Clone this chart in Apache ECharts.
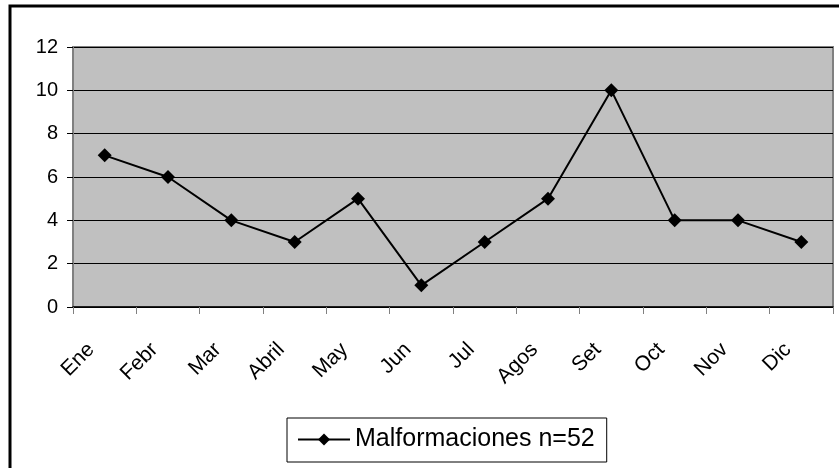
<!DOCTYPE html>
<html>
<head>
<meta charset="utf-8">
<script src="https://cdn.jsdelivr.net/npm/echarts@6/dist/echarts.min.js"></script>
<style>
    html, body { margin: 0; padding: 0; background: #fff; }
    #chart { width: 839px; height: 468px; }
</style>
</head>
<body>
<div id="chart"></div>
<script>
// meses y casos
const months = ['Ene', 'Febr', 'Mar', 'Abril', 'May', 'Jun', 'Jul', 'Agos', 'Set', 'Oct', 'Nov', 'Dic'];
const cases = [7, 6, 4, 3, 5, 1, 3, 5, 10, 4, 4, 3];
const seriesName = 'Malformaciones n=52';

const myChart = echarts.init(document.getElementById('chart'));
const font = 'Liberation Sans';

const option = {
    animation: false,
    backgroundColor: '#fff',
    graphic: [{
        type: 'rect',
        shape: { x: 10, y: 6, width: 840, height: 470 },
        style: { fill: 'none', stroke: '#000', lineWidth: 3 },
        z: 100
    }],
    grid: {
        left: 73, right: 6, top: 47, bottom: 161,
        show: true,
        backgroundColor: '#C0C0C0',
        borderColor: '#808080',
        borderWidth: 2
    },
    legend: {
        left: 287,
        top: 418,
        padding: [9, 12, 10, 10],
        borderColor: '#000',
        borderWidth: 1,
        itemWidth: 52,
        itemHeight: 15,
        itemGap: 5,
        textStyle: { fontFamily: font, fontSize: 25, color: '#000' },
        data: [seriesName]
    },
    xAxis: {
        type: 'category',
        data: months,
        boundaryGap: true,
        axisLine: { lineStyle: { color: '#000', width: 1.5 } },
        axisTick: { show: true, length: 7, lineStyle: { color: '#808080' } },
        axisLabel: {
            rotate: 45, margin: 26, padding: [0, 19, 0, 0],
            fontFamily: font, fontSize: 21, color: '#000', interval: 0
        }
    },
    yAxis: {
        type: 'value',
        min: 0,
        max: 12,
        interval: 2,
        axisLine: { show: true, lineStyle: { color: '#808080', width: 2 } },
        axisTick: { show: true, length: 6, lineStyle: { color: '#000' } },
        axisLabel: { margin: 15, fontFamily: font, fontSize: 20, color: '#000' },
        splitLine: { lineStyle: { color: '#000', width: 1 } }
    },
    series: [{
        name: seriesName,
        type: 'line',
        data: cases,
        symbol: 'diamond',
        symbolSize: 14,
        lineStyle: { color: '#000', width: 2 },
        itemStyle: { color: '#000' }
    }]
};
myChart.setOption(option);
</script>
</body>
</html>
